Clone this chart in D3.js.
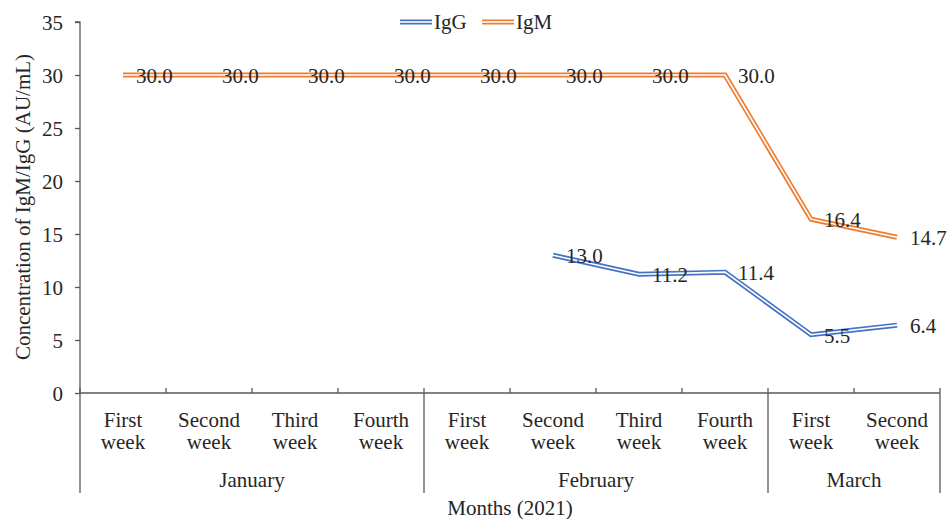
<!DOCTYPE html>
<html>
<head>
<meta charset="utf-8">
<script src="https://cdn.jsdelivr.net/npm/d3@7"></script>
<style>
  body { margin: 0; background: #fff; }
  svg text { font-family: "Liberation Serif", "Times New Roman", serif !important; fill: #262626; font-size: 21px; }
</style>
</head>
<body>
<div id="chart"></div>
<script>
// chart data
var weeks = ["First week", "Second week", "Third week", "Fourth week",
             "First week", "Second week", "Third week", "Fourth week",
             "First week", "Second week"];
var months = ["January", "February", "March"];
var monthSpans = [4, 4, 2];
var igg = [null, null, null, null, null, 13.0, 11.2, 11.4, 5.5, 6.4];
var igm = [30.0, 30.0, 30.0, 30.0, 30.0, 30.0, 30.0, 30.0, 16.4, 14.7];
var yTicks = [0, 5, 10, 15, 20, 25, 30, 35];

var width = 949, height = 519;
var margin = {top: 22, right: 9, bottom: 126, left: 80};
var innerW = width - margin.left - margin.right,
    innerH = height - margin.top - margin.bottom;

var axisColor = "#595959";
var colors = {IgG: "#4472C4", IgM: "#ED7D31"};

var svg = d3.select("#chart").append("svg")
    .attr("width", width)
    .attr("height", height)
    .attr("font-family", "Liberation Serif, serif");

var g = svg.append("g")
    .attr("transform", "translate(" + margin.left + "," + margin.top + ")");

var x = d3.scaleBand().domain(d3.range(weeks.length)).range([0, innerW]);
var y = d3.scaleLinear().domain([0, 35]).range([innerH, 0]);

// y axis
var yAxis = g.append("g")
    .call(d3.axisLeft(y).tickValues(yTicks).tickSize(5).tickPadding(12));
yAxis.attr("font-family", null).attr("font-size", null);
yAxis.selectAll("path, line").attr("stroke", axisColor).attr("stroke-width", 1.3);
yAxis.selectAll("text").attr("dy", "0.34em");
yAxis.select(".domain").attr("d", "M0," + innerH + "V0H-5");

// x axis line and inner ticks
g.append("line")
    .attr("x1", 0).attr("x2", innerW)
    .attr("y1", innerH).attr("y2", innerH)
    .attr("stroke", axisColor).attr("stroke-width", 1.3);

var bounds = d3.range(weeks.length + 1);
var monthBounds = [0];
monthSpans.forEach(function(s, i) { monthBounds.push(monthBounds[i] + s); });

bounds.forEach(function(b) {
  var bx = b * x.step();
  var isMonth = monthBounds.indexOf(b) >= 0;
  g.append("line")
    .attr("x1", bx).attr("x2", bx)
    .attr("y1", innerH - 5)
    .attr("y2", isMonth ? innerH + 100 : innerH)
    .attr("stroke", axisColor).attr("stroke-width", 1.3);
});

// week labels, two lines each
weeks.forEach(function(w, i) {
  var parts = w.split(" ");
  var cx = x(i) + x.bandwidth() / 2;
  var t = g.append("text")
    .attr("y", innerH + 34)
    .attr("text-anchor", "middle");
  t.append("tspan").attr("x", cx).text(parts[0]);
  t.append("tspan").attr("x", cx).attr("dy", 22).text(parts[1]);
});

// month labels
months.forEach(function(m, i) {
  var cx = (monthBounds[i] + monthBounds[i + 1]) / 2 * x.step();
  g.append("text")
    .attr("x", cx)
    .attr("y", innerH + 94)
    .attr("text-anchor", "middle")
    .text(m);
});

// axis titles
svg.append("text")
  .attr("x", margin.left + innerW / 2)
  .attr("y", 515)
  .attr("text-anchor", "middle")
  .text("Months (2021)");

svg.append("text")
  .attr("transform", "translate(30,207) rotate(-90)")
  .attr("text-anchor", "middle")
  .text("Concentration of IgM/IgG (AU/mL)");

// lines, drawn as double lines
var line = d3.line()
    .defined(function(d) { return d != null; })
    .x(function(d, i) { return x(i) + x.bandwidth() / 2; })
    .y(function(d) { return y(d); });

function drawSeries(values, color) {
  g.append("path").datum(values)
    .attr("fill", "none").attr("stroke", color).attr("stroke-width", 5)
    .attr("d", line);
  g.append("path").datum(values)
    .attr("fill", "none").attr("stroke", "#fff").attr("stroke-width", 1.6)
    .attr("d", line);
}
drawSeries(igm, colors.IgM);
drawSeries(igg, colors.IgG);

// data labels
function drawLabels(values) {
  values.forEach(function(v, i) {
    if (v == null) return;
    g.append("text")
      .attr("x", x(i) + x.bandwidth() / 2 + 13)
      .attr("y", y(v) + 8)
      .text(v.toFixed(1));
  });
}
drawLabels(igm);
drawLabels(igg);

// legend
var legend = [["IgG", 400], ["IgM", 482]];
legend.forEach(function(l) {
  var lg = svg.append("g").attr("transform", "translate(" + l[1] + ",22)");
  lg.append("line").attr("x1", 0).attr("x2", 32).attr("y1", 0).attr("y2", 0)
    .attr("stroke", colors[l[0]]).attr("stroke-width", 5);
  lg.append("line").attr("x1", 0).attr("x2", 32).attr("y1", 0).attr("y2", 0)
    .attr("stroke", "#fff").attr("stroke-width", 1.6);
  lg.append("text").attr("x", 34).attr("y", 7).text(l[0]);
});
</script>
</body>
</html>
